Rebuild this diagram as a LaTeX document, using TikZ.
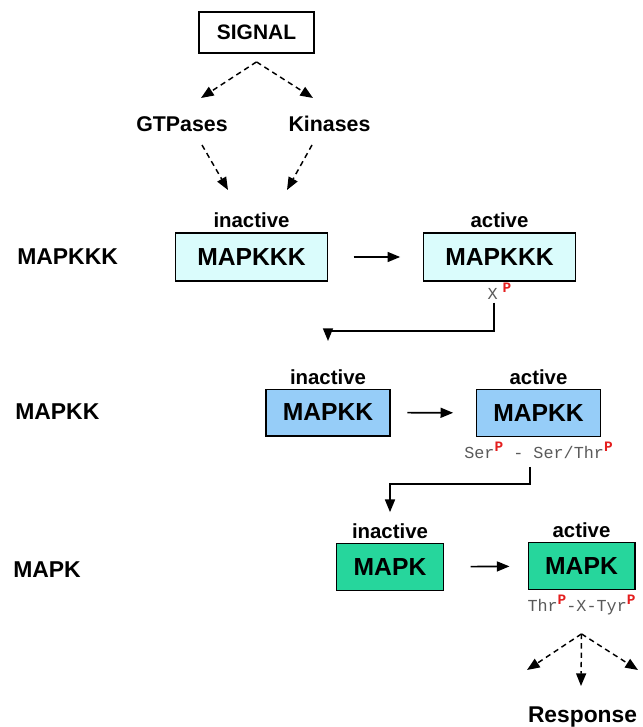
\documentclass[tikz,border=0pt]{standalone}
\usepackage{fontspec}
\setmainfont{Liberation Sans}
\setmonofont{Liberation Mono}
\usepackage{xcolor}
\usepackage{tikz}
\usetikzlibrary{arrows.meta, positioning, calc}
\definecolor{kkkfill}{RGB}{218, 252, 252}
\definecolor{kkfill}{RGB}{150, 205, 248}
\definecolor{kfill}{RGB}{38, 214, 156}
\definecolor{phosred}{RGB}{228, 30, 30}
\definecolor{sitegray}{RGB}{90, 90, 90}
\newcommand{\phos}{\raisebox{0.42em}{\fontsize{10.8}{12}\selectfont\bfseries\color{phosred}P}}
\tikzset{
    font=\bfseries,
    kinase/.style={rectangle, draw=black, line width=1pt, align=center, inner sep=0pt, font=\fontsize{18.5}{22}\selectfont\bfseries},
    kkkbox/.style={kinase, fill=kkkfill, minimum width=114pt, minimum height=36pt},
    kkbox/.style={kinase, fill=kkfill, minimum width=93pt, minimum height=35pt},
    kbox/.style={kinase, fill=kfill, minimum width=80pt, minimum height=35pt},
    signalbox/.style={rectangle, draw=black, line width=1.6pt, minimum width=86pt, minimum height=30.5pt, font=\fontsize{15.7}{18}\selectfont\bfseries},
    state/.style={inner sep=1pt, font=\fontsize{15.3}{18}\selectfont\bfseries},
    tier/.style={anchor=west, inner sep=0pt, font=\fontsize{17.2}{20}\selectfont\bfseries},
    source/.style={anchor=base, inner sep=0pt, font=\fontsize{16}{19}\selectfont\bfseries},
    site/.style={inner sep=0pt, font=\fontsize{12.6}{14}\selectfont\ttfamily\mdseries\color{sitegray}},
    arrow/.style={-{Triangle[length=9.5pt, width=7.5pt]}, line width=1.2pt},
    dasharrow/.style={arrow, line width=1.1pt, dash pattern=on 4pt off 3pt}
}

\begin{document}
\begin{tikzpicture}[x=0.75pt, y=-0.75pt]
    \useasboundingbox (0,0) rectangle (642,727);

    % signal and the two routes into MAPKKK
    \node (signal) [signalbox] at (256.5,32.5) {SIGNAL};
    \node (gtp) [source] at (182,132) {GTPases};
    \node (kin) [source] at (329.5,132) {Kinases};

    \coordinate (fork) at ([yshift=-6pt]signal.south);
    \coordinate (togtp) at (201,98);
    \coordinate (tokin) at (313,98);
    \coordinate (gtpout) at (202,145);
    \coordinate (gtpin) at (228,190);
    \coordinate (kinout) at (312,145);
    \coordinate (kinin) at (287,190);

    % tiers
    \node (kkktier) [tier] at (17,257) {MAPKKK};
    \node (kktier) [tier] at (15,412) {MAPKK};
    \node (ktier) [tier] at (13,570) {MAPK};

    \node (kkkoff) [kkkbox] at (251.5,257) {MAPKKK};
    \node (kkkon) [kkkbox] at (499.5,257) {MAPKKK};
    \node (kkoff) [kkbox] at (328,412.5) {MAPKK};
    \node (kkon) [kkbox] at (538.5,413) {MAPKK};
    \node (koff) [kbox] at (390,567) {MAPK};
    \node (kon) [kbox] at (581.5,566) {MAPK};

    \node (kkkofftag) [state, above=2pt of kkkoff] {inactive};
    \node (kkkontag) [state, above=2pt of kkkon] {active};
    \node (kkofftag) [state, above=2pt of kkoff] {inactive};
    \node (kkontag) [state, above=2pt of kkon] {active};
    \node (kofftag) [state, above=2pt of koff] {inactive};
    \node (kontag) [state, above=2pt of kon] {active};

    \node (kkksite) [site, below=1pt of kkkon] {X\hspace{0.3em}\phos};
    \node (kksite) [site, below=3.5pt of kkon] {Ser\phos{} - Ser/Thr\phos};
    \node (ksite) [site, below=3.5pt of kon] {Thr\phos-X-Tyr\phos};

    % response fan
    \node (resp) [source, font=\fontsize{17.1}{20}\selectfont\bfseries] at (582.5,722) {Response};
    \coordinate (fan) at ([yshift=-14pt]ksite.south);
    \coordinate (respl) at (527,670);
    \coordinate (respm) at (581,686);
    \coordinate (respr) at (638,670);

    \draw [dasharrow] (fork) -- (togtp);
    \draw [dasharrow] (fork) -- (tokin);
    \draw [dasharrow] (gtpout) -- (gtpin);
    \draw [dasharrow] (kinout) -- (kinin);

    \draw [arrow, shorten <=19pt, shorten >=17pt] (kkkoff) -- (kkkon);
    \draw [arrow, shorten <=12.5pt, shorten >=17pt] (kkoff) -- (kkon);
    \draw [arrow, shorten <=20pt, shorten >=13.5pt] (koff) -- (kon);

    \draw [arrow] ([xshift=-4pt, yshift=-2pt]kkksite.south) -- ++(0,28) -| ([yshift=20pt]kkofftag.north);
    \draw [arrow] ([xshift=-6.4pt, yshift=-6pt]kksite.south) -- ++(0,17) -| ([yshift=7.5pt]kofftag.north);

    \draw [dasharrow] (fan) -- (respl);
    \draw [dasharrow] (fan) -- (respm);
    \draw [dasharrow] (fan) -- (respr);

\end{tikzpicture}
\end{document}
